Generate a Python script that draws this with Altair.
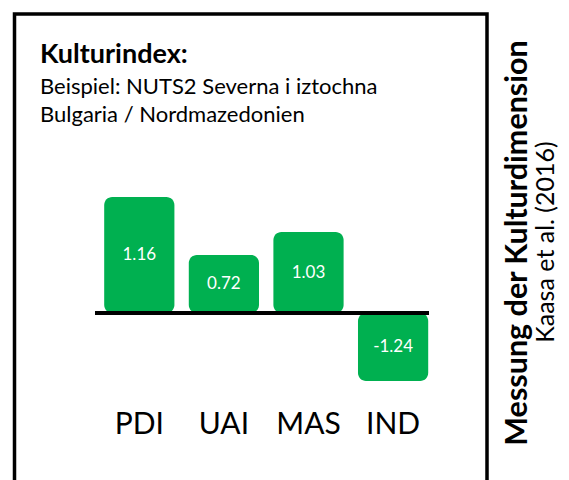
import altair as alt
import pandas as pd

# ---- data ----
categories = ["PDI", "UAI", "MAS", "IND"]
index_values = [1.16, 0.72, 1.03, -1.24]          # printed values
drawn_heights = [1.16, 0.58, 0.81, -0.68]         # bar extents as drawn (schematic picture)

title_text = "Kulturindex:"
subtitle_lines = ["Beispiel: NUTS2 Severna i iztochna", "Bulgaria / Nordmazedonien"]
side_title = "Messung der Kulturdimension"
side_source = "Kaasa et al. (2016)"

df = pd.DataFrame({"cat": categories, "value": index_values, "drawn": drawn_heights})
df["label"] = df["value"].map(lambda v: f"{v:.2f}")
df["mid"] = df["drawn"] / 2
one = pd.DataFrame({"v": [0]})

W, H = 553, 472
FONT = "Lato"
GREEN = "#00B050"

xs = alt.Scale(domain=categories, range=[89.0, 427.4], paddingInner=0.17, paddingOuter=0.085)
ys = alt.Scale(domain=[-1.67, 3.05], nice=False, zero=False)

box = alt.Chart(one).mark_rect(fillOpacity=0, stroke="black", strokeWidth=3.5).encode(
    x=alt.value(6.5), x2=alt.value(479), y=alt.value(6), y2=alt.value(495)
)

bars = alt.Chart(df).mark_bar(color=GREEN, cornerRadius=8).encode(
    x=alt.X("cat:N", scale=xs, axis=None, sort=categories),
    y=alt.Y("drawn:Q", scale=ys, axis=None),
    y2=alt.Y2("zero:Q"),
).transform_calculate(zero="0")

baseline = alt.Chart(one).mark_rule(color="black", strokeWidth=4).encode(
    y=alt.Y("v:Q", scale=ys, axis=None), x=alt.value(87), x2=alt.value(421)
)

bar_labels = alt.Chart(df).mark_text(color="white", font=FONT, fontSize=17, baseline="middle").encode(
    x=alt.X("cat:N", scale=xs, axis=None, sort=categories),
    y=alt.Y("mid:Q", scale=ys, axis=None),
    text="label:N",
)

cat_labels = alt.Chart(df).mark_text(color="black", font=FONT, fontSize=30, baseline="alphabetic").encode(
    x=alt.X("cat:N", scale=xs, axis=None, sort=categories),
    y=alt.value(426),
    text="cat:N",
)

title = alt.Chart(one).mark_text(
    text=title_text, font=FONT, fontSize=27, fontWeight="bold", align="left", baseline="alphabetic", color="black"
).encode(x=alt.value(32), y=alt.value(55))

sub1 = alt.Chart(one).mark_text(
    text=subtitle_lines[0], font=FONT, fontSize=22, align="left", baseline="alphabetic", color="black"
).encode(x=alt.value(32), y=alt.value(86))

sub2 = alt.Chart(one).mark_text(
    text=subtitle_lines[1], font=FONT, fontSize=22, align="left", baseline="alphabetic", color="black"
).encode(x=alt.value(32), y=alt.value(114))

side1 = alt.Chart(one).mark_text(
    text=side_title, font=FONT, fontSize=30.5, fontWeight="bold", angle=270, align="center", baseline="alphabetic", color="black"
).encode(x=alt.value(519), y=alt.value(235))

side2 = alt.Chart(one).mark_text(
    text=side_source, font=FONT, fontSize=25, angle=270, align="center", baseline="alphabetic", color="black"
).encode(x=alt.value(546), y=alt.value(234))

chart = alt.layer(box, bars, baseline, bar_labels, cat_labels, title, sub1, sub2, side1, side2).properties(
    width=W, height=H, autosize="none", padding=0
).configure_view(stroke=None)

chart.save("out.html", embed_options={"renderer": "svg", "actions": False})
